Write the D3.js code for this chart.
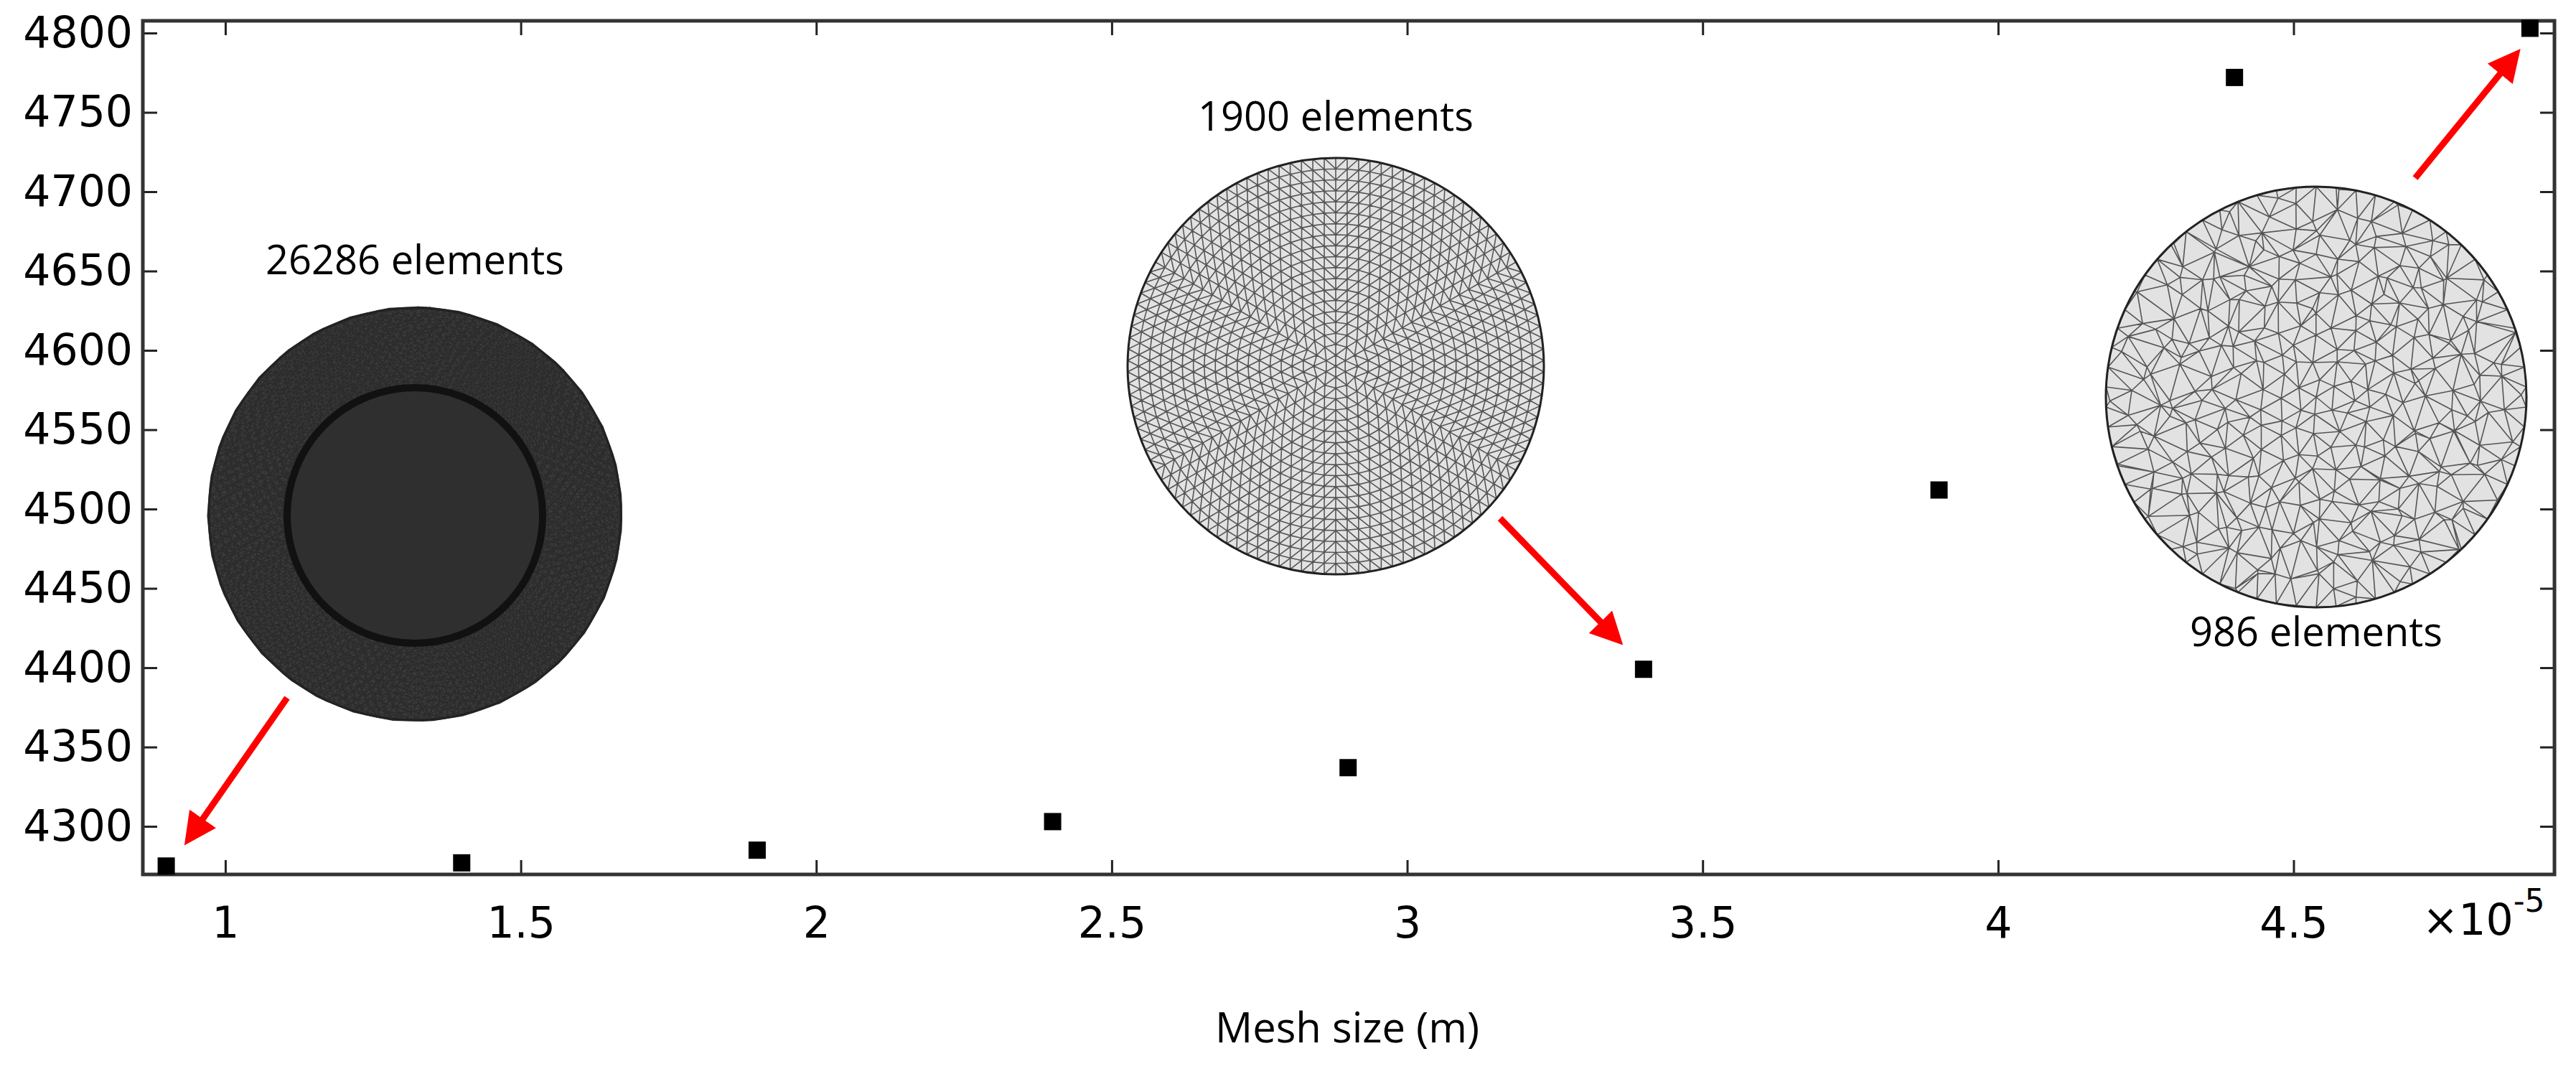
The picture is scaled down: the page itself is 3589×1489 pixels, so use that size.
<!DOCTYPE html>
<html>
<head>
<meta charset="utf-8">
<script src="https://cdn.jsdelivr.net/npm/d3@7"></script>
<style>
  body { margin: 0; background: #fff; }
  svg { display: block; }
  .tick text { font-family: "DejaVu Sans", sans-serif; }
</style>
</head>
<body>
<svg id="chart"></svg>
<script>
// mesh size (x 1e-5 m) and the value at each mesh size
const meshSize = [0.9, 1.4, 1.9, 2.4, 2.9, 3.4, 3.9, 4.4, 4.9];
const values = [4275, 4277, 4285, 4303, 4337, 4399, 4512, 4772, 4803];
const xTicks = [1, 1.5, 2, 2.5, 3, 3.5, 4, 4.5];
const yTicks = [4300, 4350, 4400, 4450, 4500, 4550, 4600, 4650, 4700, 4750, 4800];

const width = 3589;
const height = 1489;
const plotLeft = 199, plotRight = 3559, plotTop = 29, plotBottom = 1218;

const svg = d3.select("#chart").attr("width", width).attr("height", height);

const x = d3.scaleLinear().domain([0.8604, 4.9415]).range([plotLeft, plotRight]);
const y = d3.scaleLinear().domain([4269.7, 4807.7]).range([plotBottom, plotTop]);

// mesh pictures (decoration)
function ringPoints(cx, cy, r, rings, jitter) {
    const pts = [[cx, cy]];
    for (let i = 1; i <= rings; i++) {
        const rr = r * i / rings;
        const n = Math.round(6 * i);
        const off = (i % 2) * Math.PI / n;
        for (let k = 0; k < n; k++) {
            const a = off + 2 * Math.PI * k / n + (i < rings ? jitter * Math.sin(k * 1.7 + i) / n : 0);
            const rj = i < rings ? rr * (1 + jitter * 0.08 * Math.cos(k * 2.3 + i * 0.7)) : rr;
            pts.push([cx + rj * Math.cos(a), cy + rj * Math.sin(a)]);
        }
    }
    return pts;
}

function drawMesh(cx, cy, r, rings, jitter, fill, stroke, sw) {
    const g = svg.append("g");
    g.append("circle").attr("cx", cx).attr("cy", cy).attr("r", r).attr("fill", fill);
    const del = d3.Delaunay.from(ringPoints(cx, cy, r, rings, jitter));
    g.append("path").attr("d", del.render()).attr("fill", "none")
        .attr("stroke", stroke).attr("stroke-width", sw);
    g.append("circle").attr("cx", cx).attr("cy", cy).attr("r", r)
        .attr("fill", "none").attr("stroke", "#222").attr("stroke-width", 3);
}

drawMesh(578, 716, 287, 60, 0.3, "#3a3a3a", "#2b2b2b", 1.2);
svg.append("circle").attr("cx", 578).attr("cy", 718).attr("r", 178)
    .attr("fill", "#2f2f2f").attr("stroke", "#111").attr("stroke-width", 10);
drawMesh(1861, 510, 290, 19, 0, "#e2e2e2", "#555", 1.6);
drawMesh(3227, 553, 293, 11, 1.2, "#e2e2e2", "#555", 1.6);

// annotation labels
const ann = [["26286 elements", 578, 382], ["1900 elements", 1861, 182], ["986 elements", 3227, 900]];
svg.selectAll(".ann").data(ann).enter().append("text")
    .attr("x", d => d[1]).attr("y", d => d[2])
    .attr("text-anchor", "middle")
    .style("font-family", "'Open Sans', sans-serif").style("font-size", "56px")
    .text(d => d[0]);

// red arrows
const defs = svg.append("defs");
defs.append("marker").attr("id", "head").attr("viewBox", "0 0 10 10")
    .attr("refX", 8).attr("refY", 5).attr("markerWidth", 5).attr("markerHeight", 5)
    .attr("orient", "auto").attr("markerUnits", "strokeWidth")
    .append("path").attr("d", "M0,0 L10,5 L0,10 Z").attr("fill", "#ff0000");
const arrows = [[400, 972, 262, 1170], [2090, 722, 2255, 892], [3365, 248, 3506, 75]];
svg.selectAll(".arrow").data(arrows).enter().append("line")
    .attr("x1", d => d[0]).attr("y1", d => d[1]).attr("x2", d => d[2]).attr("y2", d => d[3])
    .attr("stroke", "#ff0000").attr("stroke-width", 9).attr("marker-end", "url(#head)");

// axes
const tickLen = 20;
svg.append("g").attr("transform", `translate(0,${plotBottom})`)
    .call(d3.axisBottom(x).tickValues(xTicks).tickSize(-tickLen).tickPadding(45).tickFormat(d3.format("")))
    .call(g => g.selectAll("text").style("font-size", "60px").attr("fill", "#000"));
svg.append("g").attr("transform", `translate(0,${plotTop})`)
    .call(d3.axisTop(x).tickValues(xTicks).tickSize(-tickLen).tickFormat(""));
svg.append("g").attr("transform", `translate(${plotLeft},0)`)
    .call(d3.axisLeft(y).tickValues(yTicks).tickSize(-tickLen).tickPadding(14).tickFormat(d3.format("d")))
    .call(g => g.selectAll("text").style("font-size", "60px").attr("fill", "#000"));
svg.append("g").attr("transform", `translate(${plotRight},0)`)
    .call(d3.axisRight(y).tickValues(yTicks).tickSize(-tickLen).tickFormat(""));
svg.selectAll(".domain").remove();
svg.selectAll(".tick line").attr("stroke", "#222").attr("stroke-width", 3);
svg.append("rect").attr("x", plotLeft).attr("y", plotTop)
    .attr("width", plotRight - plotLeft).attr("height", plotBottom - plotTop)
    .attr("fill", "none").attr("stroke", "#333").attr("stroke-width", 5);

// exponent label
const ex = svg.append("text").attr("x", 3375).attr("y", 1302)
    .style("font-family", "'DejaVu Sans', sans-serif").style("font-size", "60px");
ex.append("tspan").text("\u00d710");
ex.append("tspan").attr("dy", -32).style("font-size", "44px").text("-5");

// axis title
svg.append("text").attr("x", 1877).attr("y", 1452).attr("text-anchor", "middle")
    .style("font-family", "'Open Sans', sans-serif").style("font-size", "58px")
    .text("Mesh size (m)");

// points
const s = 24;
svg.selectAll(".pt").data(meshSize).enter().append("rect")
    .attr("x", d => x(d) - s / 2).attr("y", (d, i) => y(values[i]) - s / 2)
    .attr("width", s).attr("height", s).attr("fill", "#000");
</script>
</body>
</html>
